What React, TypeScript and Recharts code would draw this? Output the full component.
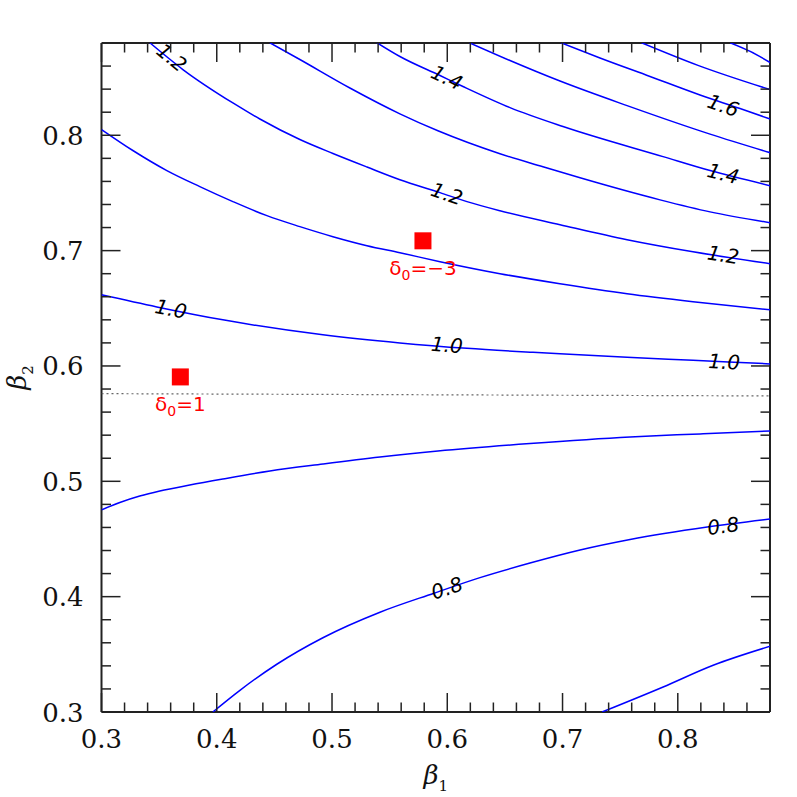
import React from "react";
import { ScatterChart, Scatter, XAxis, YAxis } from "recharts";

// axis ticks (same range on both axes)
const majorTicks = [0.3, 0.4, 0.5, 0.6, 0.7, 0.8];
const allTicks = [
  0.3, 0.32, 0.34, 0.36, 0.38, 0.4, 0.42, 0.44, 0.46, 0.48, 0.5, 0.52, 0.54, 0.56, 0.58,
  0.6, 0.62, 0.64, 0.66, 0.68, 0.7, 0.72, 0.74, 0.76, 0.78, 0.8, 0.82, 0.84, 0.86,
];

// contour lines (x = beta1, y = beta2)
const contour07 = [
  { x: 0.7343, y: 0.3 }, { x: 0.7873, y: 0.3217 }, { x: 0.8307, y: 0.3405 }, { x: 0.8801, y: 0.357 },
];
const contour08 = [
  { x: 0.3966, y: 0.3 }, { x: 0.4201, y: 0.3188 }, { x: 0.4521, y: 0.3414 }, { x: 0.4921, y: 0.3644 },
  { x: 0.5416, y: 0.3865 }, { x: 0.5885, y: 0.403 }, { x: 0.6284, y: 0.4165 }, { x: 0.6718, y: 0.4291 },
  { x: 0.7152, y: 0.4404 }, { x: 0.7586, y: 0.4495 }, { x: 0.8255, y: 0.4603 }, { x: 0.8801, y: 0.4673 },
];
const contour09 = [
  { x: 0.3, y: 0.4752 }, { x: 0.3159, y: 0.4816 }, { x: 0.3332, y: 0.4872 }, { x: 0.3506, y: 0.4916 },
  { x: 0.3766, y: 0.4968 }, { x: 0.4053, y: 0.502 }, { x: 0.4461, y: 0.5089 }, { x: 0.4921, y: 0.515 },
  { x: 0.5416, y: 0.5211 }, { x: 0.5919, y: 0.5263 }, { x: 0.6718, y: 0.5328 }, { x: 0.7586, y: 0.5385 },
  { x: 0.8194, y: 0.5411 }, { x: 0.8801, y: 0.5437 },
];
const contour10 = [
  { x: 0.3, y: 0.6617 }, { x: 0.348, y: 0.6512 }, { x: 0.4053, y: 0.64 }, { x: 0.4921, y: 0.627 },
  { x: 0.5589, y: 0.62 }, { x: 0.6171, y: 0.6153 }, { x: 0.6744, y: 0.6118 }, { x: 0.6978, y: 0.6105 },
  { x: 0.756, y: 0.6075 }, { x: 0.8132, y: 0.6049 }, { x: 0.8801, y: 0.6018 },
];
const contour11 = [
  { x: 0.3, y: 0.805 }, { x: 0.3272, y: 0.7868 }, { x: 0.3567, y: 0.7694 }, { x: 0.3853, y: 0.7555 },
  { x: 0.414, y: 0.7425 }, { x: 0.4435, y: 0.7303 }, { x: 0.4721, y: 0.7208 }, { x: 0.5008, y: 0.7121 },
  { x: 0.5303, y: 0.7043 }, { x: 0.5589, y: 0.6982 }, { x: 0.5937, y: 0.6904 }, { x: 0.6457, y: 0.68 },
  { x: 0.6978, y: 0.6713 }, { x: 0.756, y: 0.6626 }, { x: 0.8132, y: 0.6557 }, { x: 0.8801, y: 0.6487 },
];
const contour12 = [
  { x: 0.3419, y: 0.8802 }, { x: 0.3706, y: 0.857 }, { x: 0.414, y: 0.828 }, { x: 0.4374, y: 0.8141 },
  { x: 0.4721, y: 0.7963 }, { x: 0.5008, y: 0.7842 }, { x: 0.5303, y: 0.7725 }, { x: 0.5589, y: 0.7615 },
  { x: 0.5937, y: 0.7503 }, { x: 0.6171, y: 0.7425 }, { x: 0.6457, y: 0.7346 }, { x: 0.6978, y: 0.7225 },
  { x: 0.756, y: 0.7095 }, { x: 0.8132, y: 0.699 }, { x: 0.8801, y: 0.6886 },
];
const contour13 = [
  { x: 0.4461, y: 0.8802 }, { x: 0.4721, y: 0.8657 }, { x: 0.5155, y: 0.841 }, { x: 0.5589, y: 0.8186 },
  { x: 0.5919, y: 0.8039 }, { x: 0.6457, y: 0.784 }, { x: 0.683, y: 0.7727 }, { x: 0.7152, y: 0.7631 },
  { x: 0.7846, y: 0.744 }, { x: 0.828, y: 0.7336 }, { x: 0.8801, y: 0.7242 },
];
const contour14 = [
  { x: 0.539, y: 0.8802 }, { x: 0.5589, y: 0.8683 }, { x: 0.5937, y: 0.8518 }, { x: 0.6136, y: 0.8423 },
  { x: 0.6544, y: 0.824 }, { x: 0.7004, y: 0.8076 }, { x: 0.7872, y: 0.7815 }, { x: 0.828, y: 0.7694 },
  { x: 0.8801, y: 0.7563 },
];
const contour15 = [
  { x: 0.6192, y: 0.8802 }, { x: 0.6544, y: 0.8648 }, { x: 0.6978, y: 0.847 }, { x: 0.756, y: 0.8257 },
  { x: 0.828, y: 0.801 }, { x: 0.8801, y: 0.7849 },
];
const contour16 = [
  { x: 0.6987, y: 0.8802 }, { x: 0.7325, y: 0.867 }, { x: 0.7759, y: 0.851 }, { x: 0.8193, y: 0.8349 },
  { x: 0.854, y: 0.8232 }, { x: 0.8801, y: 0.8141 },
];
const contour17 = [{ x: 0.7686, y: 0.8802 }, { x: 0.8181, y: 0.8604 }, { x: 0.8801, y: 0.8396 }];
const contour18 = [{ x: 0.8454, y: 0.8802 }, { x: 0.8628, y: 0.8727 }, { x: 0.8801, y: 0.8631 }];

const contours = [
  { level: 0.7, points: contour07 },
  { level: 0.8, points: contour08 },
  { level: 0.9, points: contour09 },
  { level: 1.0, points: contour10 },
  { level: 1.1, points: contour11 },
  { level: 1.2, points: contour12 },
  { level: 1.3, points: contour13 },
  { level: 1.4, points: contour14 },
  { level: 1.5, points: contour15 },
  { level: 1.6, points: contour16 },
  { level: 1.7, points: contour17 },
  { level: 1.8, points: contour18 },
];

// contour labels sitting on the lines
const contourLabels = [
  { level: 1.2, x: 0.361, y: 0.8674, text: "1.2" },
  { level: 1.4, x: 0.5997, y: 0.85, text: "1.4" },
  { level: 1.2, x: 0.5997, y: 0.7493, text: "1.2" },
  { level: 1.0, x: 0.3603, y: 0.6494, text: "1.0" },
  { level: 1.0, x: 0.5997, y: 0.6181, text: "1.0" },
  { level: 1.6, x: 0.8394, y: 0.8258, text: "1.6" },
  { level: 1.4, x: 0.8394, y: 0.7667, text: "1.4" },
  { level: 1.2, x: 0.8394, y: 0.6964, text: "1.2" },
  { level: 1.0, x: 0.8403, y: 0.6036, text: "1.0" },
  { level: 0.8, x: 0.5997, y: 0.4074, text: "0.8" },
  { level: 0.8, x: 0.8394, y: 0.4612, text: "0.8" },
];

// dotted reference line
const dottedLine = [{ x: 0.3, y: 0.576 }, { x: 0.88, y: 0.574 }];

// red markers
const markers = [
  { x: 0.5789, y: 0.7085, delta: "\u22123" },
  { x: 0.3684, y: 0.5905, delta: "1" },
];

const FRAME = "#222";
const TICK_FONT = "DejaVu Serif";

const isMajor = (v: number) => majorTicks.some((m) => Math.abs(m - v) < 1e-6);

const slopeAt = (level: number, x: number) => {
  const c = contours.find((k) => Math.abs(k.level - level) < 1e-6);
  if (!c) return 0;
  const p = c.points;
  for (let i = 0; i < p.length - 1; i++) {
    if (x >= p[i].x && x <= p[i + 1].x) return (p[i + 1].y - p[i].y) / (p[i + 1].x - p[i].x);
  }
  return 0;
};

const BottomTick = (props: any) => {
  const { x, y, payload } = props;
  const major = isMajor(payload.value);
  return (
    <g>
      <line x1={x} x2={x} y1={y} y2={y - (major ? 19 : 9.5)} stroke={FRAME} strokeWidth={1.5} />
      {major && (
        <text x={x} y={y + 36} textAnchor="middle" fontFamily={TICK_FONT} fontSize={26} fill="#111">
          {payload.value.toFixed(1)}
        </text>
      )}
    </g>
  );
};

const TopTick = (props: any) => {
  const { x, y, payload } = props;
  const major = isMajor(payload.value);
  return <line x1={x} x2={x} y1={y} y2={y + (major ? 19 : 9.5)} stroke={FRAME} strokeWidth={1.5} />;
};

const LeftTick = (props: any) => {
  const { x, y, payload } = props;
  const major = isMajor(payload.value);
  return (
    <g>
      <line x1={x} x2={x + (major ? 19 : 9.5)} y1={y} y2={y} stroke={FRAME} strokeWidth={1.5} />
      {major && (
        <text x={x - 18} y={y + 9.5} textAnchor="end" fontFamily={TICK_FONT} fontSize={26} fill="#111">
          {payload.value.toFixed(1)}
        </text>
      )}
    </g>
  );
};

const RightTick = (props: any) => {
  const { x, y, payload } = props;
  const major = isMajor(payload.value);
  return <line x1={x} x2={x - (major ? 19 : 9.5)} y1={y} y2={y} stroke={FRAME} strokeWidth={1.5} />;
};

const ContourLabel = (props: any) => {
  const { cx, cy, payload } = props;
  const angle = (Math.atan(-slopeAt(payload.level, payload.x)) * 180) / Math.PI;
  return (
    <text
      x={cx}
      y={cy}
      transform={`rotate(${angle} ${cx} ${cy})`}
      textAnchor="middle"
      dominantBaseline="central"
      fontFamily="DejaVu Sans"
      fontStyle="italic"
      fontSize={20}
      fill="#000"
    >
      {payload.text}
    </text>
  );
};

const Marker = (props: any) => {
  const { cx, cy, payload } = props;
  return (
    <g>
      <rect x={cx - 8.5} y={cy - 8.5} width={17} height={17} fill="#ff0000" />
      <text x={cx} y={cy + 34} textAnchor="middle" fontFamily="DejaVu Sans" fontSize={20} fill="#ff0000">
        δ
        <tspan fontSize={14} dy={5}>0</tspan>
        <tspan dy={-5}>={payload.delta}</tspan>
      </text>
    </g>
  );
};

const XLabel = (props: any) => {
  const { viewBox } = props;
  const cx = viewBox.x + viewBox.width / 2;
  return (
    <text x={cx} y={784} textAnchor="middle" fontFamily={TICK_FONT} fontSize={26} fill="#111">
      <tspan fontStyle="italic">β</tspan>
      <tspan fontSize={15} dy={7}>1</tspan>
    </text>
  );
};

const YLabel = (props: any) => {
  const { viewBox } = props;
  const cy = viewBox.y + viewBox.height / 2;
  const x = 26;
  return (
    <text
      x={x}
      y={cy}
      transform={`rotate(-90 ${x} ${cy})`}
      textAnchor="middle"
      fontFamily={TICK_FONT}
      fontSize={26}
      fill="#111"
    >
      <tspan fontStyle="italic">β</tspan>
      <tspan fontSize={15} dy={7}>2</tspan>
    </text>
  );
};

const noDot = () => <g />;

export default function App() {
  return (
    <div style={{ position: "absolute", left: 0, top: 0, width: 797, height: 797, background: "#fff" }}>
      <ScatterChart width={797} height={797} margin={{ top: 42, left: 100.5, right: 26, bottom: 84 }}>
        <XAxis
          xAxisId="b"
          dataKey="x"
          type="number"
          domain={[0.3, 0.88]}
          ticks={allTicks}
          interval={0}
          allowDataOverflow
          height={1}
          tickSize={0}
          tickMargin={0}
          tickLine={false}
          axisLine={{ stroke: FRAME, strokeWidth: 2 }}
          tick={<BottomTick />}
          label={<XLabel />}
        />
        <XAxis
          xAxisId="t"
          orientation="top"
          dataKey="x"
          type="number"
          domain={[0.3, 0.88]}
          ticks={allTicks}
          interval={0}
          allowDataOverflow
          height={1}
          tickSize={0}
          tickMargin={0}
          tickLine={false}
          axisLine={{ stroke: FRAME, strokeWidth: 2 }}
          tick={<TopTick />}
        />
        <YAxis
          yAxisId="l"
          dataKey="y"
          type="number"
          domain={[0.3, 0.88]}
          ticks={allTicks}
          interval={0}
          allowDataOverflow
          width={1}
          tickSize={0}
          tickMargin={0}
          tickLine={false}
          axisLine={{ stroke: FRAME, strokeWidth: 2 }}
          tick={<LeftTick />}
          label={<YLabel />}
        />
        <YAxis
          yAxisId="r"
          orientation="right"
          dataKey="y"
          type="number"
          domain={[0.3, 0.88]}
          ticks={allTicks}
          interval={0}
          allowDataOverflow
          width={1}
          tickSize={0}
          tickMargin={0}
          tickLine={false}
          axisLine={{ stroke: FRAME, strokeWidth: 2 }}
          tick={<RightTick />}
        />
        <Scatter
          xAxisId="t"
          yAxisId="r"
          data={dottedLine}
          line={{ stroke: "#666", strokeWidth: 1.2, strokeDasharray: "2 3" }}
          shape={noDot}
          isAnimationActive={false}
        />
        {contours.map((c) => (
          <Scatter
            key={c.level}
            xAxisId="b"
            yAxisId="l"
            data={c.points}
            line={{ stroke: "#0000ff", strokeWidth: 1.5 }}
            lineJointType="monotoneX"
            shape={noDot}
            isAnimationActive={false}
          />
        ))}
        <Scatter xAxisId="b" yAxisId="l" data={contourLabels} shape={<ContourLabel />} isAnimationActive={false} />
        <Scatter xAxisId="b" yAxisId="l" data={markers} shape={<Marker />} isAnimationActive={false} />
      </ScatterChart>
    </div>
  );
}
